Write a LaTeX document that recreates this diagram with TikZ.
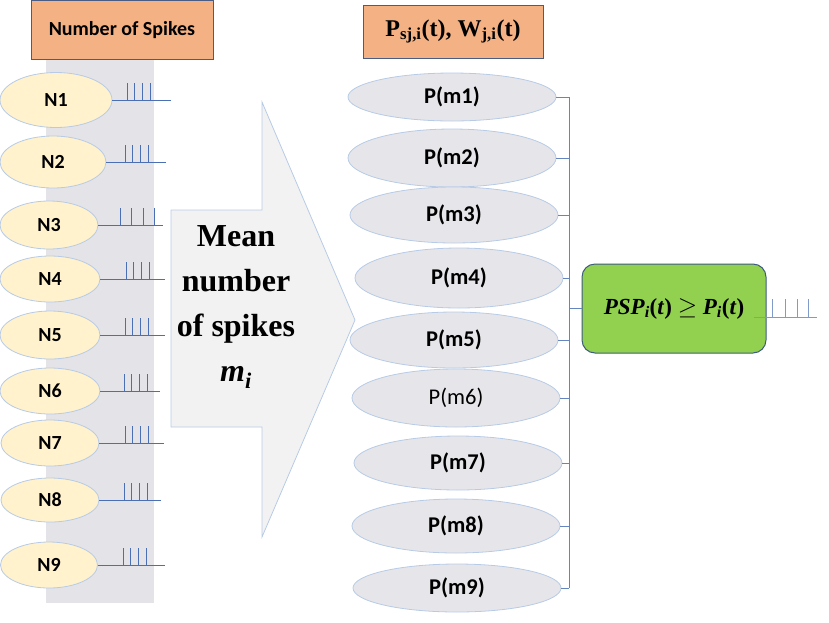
\documentclass[tikz,border=0pt]{standalone}
\usepackage{fontspec}
\setmainfont{Carlito}
\newfontfamily\timesfont{Liberation Serif}
\usetikzlibrary{shapes.geometric}

\definecolor{spikeblue}{HTML}{4A6FB5}
\definecolor{boxorange}{HTML}{F4B183}
\definecolor{framegray}{HTML}{4A5C84}
\definecolor{colgray}{HTML}{E4E4E8}
\definecolor{nyellow}{HTML}{FFF2CC}
\definecolor{pgray}{HTML}{E6E6EA}
\definecolor{edgeblue}{HTML}{B7CBE6}
\definecolor{arrowgray}{HTML}{F2F2F2}
\definecolor{pspgreen}{HTML}{92D050}
\definecolor{pspframe}{HTML}{3E5C80}

\begin{document}
\begin{tikzpicture}[
  x=1pt,y=-1pt,
  headbox/.style={draw=framegray,fill=boxorange,line width=0.9pt,minimum width=182pt,minimum height=59pt},
  neuron/.style={ellipse,draw=edgeblue,fill=nyellow,line width=0.8pt,inner sep=0pt,font=\fontsize{20}{22}\selectfont\bfseries},
  prob/.style={ellipse,draw=edgeblue,fill=pgray,line width=0.8pt,inner sep=0pt,minimum width=208pt,font=\fontsize{22.5}{24}\selectfont},
  spike/.style={draw=spikeblue,line width=0.8pt},
  link/.style={draw=spikeblue!85,line width=0.7pt},
  meantext/.style={align=center,font=\timesfont\bfseries\fontsize{32}{45}\selectfont},
  pspbox/.style={draw=pspframe,fill=pspgreen,line width=1pt,rounded corners=13pt,minimum width=184pt,minimum height=89pt,font=\timesfont\bfseries\itshape\fontsize{23}{25}\selectfont},
]
  \useasboundingbox (0,0) rectangle (829,622);
  \fill[colgray] (46,60) rectangle (154,603);
  \node[headbox,font=\fontsize{20}{22}\selectfont\bfseries] (spkhead) at (122,30) {Number of Spikes};
  \node[headbox,minimum width=180pt,minimum height=53pt,font=\timesfont\bfseries\fontsize{24}{26}\selectfont] (probhead) at (453,31.5) {P\textsubscript{sj,i}(t), W\textsubscript{j,i}(t)};

  \foreach \i/\cx/\cy/\w/\h/\tx/\dt/\ex in {1/56/100/112/55/127/7.7/171,2/53/162/106/52/125/7.7/166,3/49/225/98/48/120/11.5/163,4/50/279/100/46/126/7.7/165,5/50/335/100/48/125/7.7/165,6/50/391/100/46/124/7.7/160,7/50/443/98/46/125/7.7/164,8/50/500/98/44/124/7.7/161,9/49/565/97/46/123/7.7/165}{
    \node[neuron,minimum width=\w pt,minimum height=\h pt] (n\i) at (\cx,\cy) {N\i};
    \draw[spike] (n\i.east) -- (\ex,\cy);
    \foreach \k in {0,...,3}
      \draw[spike] ({\tx+\k*\dt},\cy) -- ++(0,-17);
  }

  \draw[draw=edgeblue,fill=arrowgray,line width=0.8pt] (171,210) -- (262,210) -- (262,102) -- (355,320) -- (262,537) -- (262,427) -- (171,427) -- cycle;
  \node[meantext] (meanlbl) at (236,307) {Mean\\number\\of spikes\\\textit{m}\textsubscript{\textit{i}}};

  \foreach \i/\cx/\cy/\h/\wt in {1/452/97/48/\bfseries,2/452/158/58/\bfseries,3/454/215/56/\bfseries,4/459/278/60/\bfseries,5/454/340/56/\bfseries,6/456/398/58/\mdseries,7/458/463/54/\bfseries,8/456/526/54/\bfseries,9/457/588/48/\bfseries}
    \node[prob,minimum height=\h pt] (p\i) at (\cx,\cy) {\wt P(m\i)};

  \coordinate (bus) at (569,97);
  \foreach \i in {1,...,9}
    \draw[link] (p\i.east) -- (p\i.east -| bus);
  \draw[link] (p1.east -| bus) -- (p9.east -| bus);

  \node[pspbox] (psp) at (674,308.5) {PSP\textsubscript{i}\textup{(}t\textup{)} $\geq$ P\textsubscript{i}\textup{(}t\textup{)}};
  \draw[link] (bus |- psp.west) -- (psp.west);

  \coordinate (outspk) at ([shift={(-13,9)}]psp.east);
  \draw[spike,draw=spikeblue!70] (outspk) -- ++(63,0);
  \foreach \dx in {19,32,44,55}
    \draw[spike,draw=spikeblue!70] ([xshift=\dx pt]outspk) -- ++(0,-19);
\end{tikzpicture}
\end{document}
